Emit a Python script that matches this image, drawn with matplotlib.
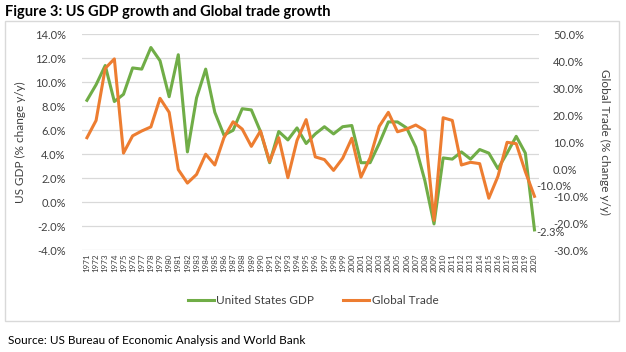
import numpy as np
import matplotlib
matplotlib.use("Agg")
import matplotlib.pyplot as plt
from matplotlib.patches import Rectangle

plt.rcParams['font.family'] = ['Lato', 'DejaVu Sans']

years = [str(y) for y in range(1971, 2021)]
us_gdp = [8.5, 9.8, 11.4, 8.4, 9.0, 11.2, 11.1, 12.9, 11.8, 8.8,
          12.3, 4.2, 8.7, 11.1, 7.5, 5.6, 6.0, 7.8, 7.7, 5.9,
          3.3, 5.9, 5.2, 6.2, 4.9, 5.7, 6.3, 5.7, 6.3, 6.4,
          3.3, 3.3, 4.9, 6.7, 6.7, 6.2, 4.6, 1.8, -1.8, 3.7,
          3.6, 4.2, 3.6, 4.4, 4.1, 2.8, 4.1, 5.5, 4.1, -2.3]
global_trade = [11.7, 18.1, 37.4, 40.9, 6.0, 12.4, 14.2, 15.7, 26.3, 21.1,
                -0.1, -5.1, -1.9, 5.6, 1.6, 11.7, 17.6, 14.9, 8.5, 14.2,
                2.8, 11.7, -3.1, 10.7, 18.4, 4.6, 3.6, -0.4, 4.1, 11.5,
                -2.9, 4.3, 15.9, 21.1, 13.9, 14.9, 16.4, 14.4, -18.9, 19.1,
                18.1, 1.6, 2.6, 2.1, -10.7, -2.6, 10.0, 9.5, -0.9, -10.0]

green = '#70AD47'
orange = '#ED7D31'

fig = plt.figure(figsize=(6.26, 3.52), dpi=100)
fig.patches.append(Rectangle((5 / 626, 1 - 321 / 352), 614 / 626, 300 / 352,
                             transform=fig.transFigure, fill=False,
                             edgecolor='#D9D9D9', linewidth=1))

ax = fig.add_axes([0.1316, 0.2889, 0.7295, 0.6136])
ax2 = ax.twinx()

x = np.arange(len(years))
l1, = ax.plot(x, us_gdp, color=green, linewidth=2.2, solid_joinstyle='round')
l2, = ax2.plot(x, global_trade, color=orange, linewidth=2.2, solid_joinstyle='round')

ax.set_xlim(-0.5, len(years) - 0.5)
ax.set_ylim(-4, 14)
ax.set_yticks(np.arange(-4, 15, 2))
ax.set_yticklabels(['{:.1f}%'.format(v) for v in np.arange(-4, 15, 2)])
ax2.set_ylim(-30, 50)
ax2.set_yticks(np.arange(-30, 51, 10))
ax2.set_yticklabels(['{:.1f}%'.format(v) for v in np.arange(-30, 51, 10)])

ax.set_xticks(x)
ax.set_xticklabels(years, rotation=90, fontsize=5.8, color='#404040')
ax.grid(axis='y', color='#D9D9D9', linewidth=0.9)
ax.set_axisbelow(True)
for a in (ax, ax2):
    for s in a.spines.values():
        s.set_visible(False)
    a.tick_params(length=0, colors='#404040')
    a.tick_params(axis='y', labelsize=8)
ax.tick_params(axis='y', pad=12)
ax2.tick_params(axis='y', pad=10)
ax.tick_params(axis='x', pad=2)

ax.set_ylabel('US GDP (% change y/y)', fontsize=8.5, color='#404040', labelpad=6)
ax2.set_ylabel('Global Trade (% change y/y)', fontsize=8.5, color='#404040',
               rotation=270, labelpad=16)

ax.annotate('{:.1f}%'.format(us_gdp[-1]), (x[-1], us_gdp[-1]), xytext=(1, -2),
            textcoords='offset points', fontsize=8, color='#404040', va='center')
ax2.annotate('{:.1f}%'.format(global_trade[-1]), (x[-1], global_trade[-1]),
             xytext=(1, 7), textcoords='offset points', fontsize=8,
             color='#404040', va='center')

fig.legend([l1, l2], ['United States GDP', 'Global Trade'], loc='center',
           bbox_to_anchor=(313 / 626, 1 - 301 / 352), ncol=2, frameon=False,
           fontsize=8.5, handlelength=2.2, handletextpad=0.2, columnspacing=2.5,
           labelcolor='#404040')

fig.text(5 / 626, 1 - 12 / 352, 'Figure 3: US GDP growth and Global trade growth',
         fontsize=10.5, fontweight='bold', va='center', ha='left')
fig.text(8 / 626, 1 - 341 / 352, 'Source: US Bureau of Economic Analysis and World Bank',
         fontsize=8.5, va='center', ha='left')

fig.savefig('out.png', dpi=100)
